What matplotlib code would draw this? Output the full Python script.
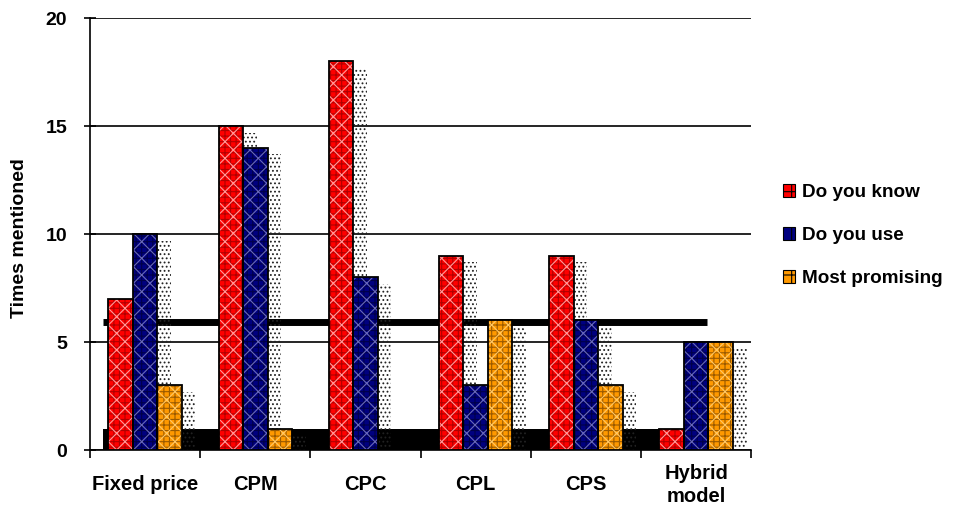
import numpy as np
import matplotlib.pyplot as plt
from matplotlib.patches import Patch

plt.rcParams['font.family'] = ['Liberation Sans', 'DejaVu Sans']
plt.rcParams['font.weight'] = 'bold'
plt.rcParams['hatch.linewidth'] = 0.8

categories = ['Fixed price', 'CPM', 'CPC', 'CPL', 'CPS', 'Hybrid\nmodel']
know = [7, 15, 18, 9, 9, 1]
use = [10, 14, 8, 3, 6, 5]
promising = [3, 1, 0, 6, 3, 5]
series_names = ['Do you know', 'Do you use', 'Most promising']

colors = ['#ff0000', '#000080', '#ff9900']
dark_hatch = ['#b00000', '#00004a', '#9a5a00']
light_hatch = ['#ff9a9a', '#6a6ab8', '#ffc866']

fig = plt.figure(figsize=(9.57, 5.15), dpi=100)
ax = fig.add_axes([0.094, 0.126, 0.691, 0.839])

x = np.arange(len(categories))
w = 0.222
offsets = [-w, 0, w]

# thick reference bars behind the columns
ax.fill_between([-0.38, 5.05], 0, 1, color='black', zorder=1, linewidth=0)
ax.hlines(5.93, -0.38, 5.1, color='black', linewidth=5, zorder=1)

for vals, off, col, dh, lh in zip([know, use, promising], offsets, colors, dark_hatch, light_hatch):
    vals = np.array(vals, dtype=float)
    # dotted drop shadow
    ax.bar(x + off + w * 0.5 + w * 0.28, vals - 0.3, w * 0.56, bottom=0,
           fill=False, hatch='....', edgecolor='#222222', linewidth=0, zorder=2)
    # patterned face
    ax.bar(x + off, vals, w, color=col, hatch='+++', edgecolor=dh, linewidth=0, zorder=3)
    ax.bar(x + off, vals, w, fill=False, hatch='xx', edgecolor=lh, linewidth=0, zorder=3)
    # outline
    ax.bar(x + off, vals, w, fill=False, edgecolor='black', linewidth=1.3, zorder=4)

ax.set_xlim(-0.5, 5.5)
ax.set_ylim(0, 20)
ax.set_yticks([0, 5, 10, 15, 20])
ax.yaxis.grid(True, color='black', linewidth=1.2)
ax.set_axisbelow(True)

ax.set_xticks(np.arange(-0.5, 6, 1))
ax.set_xticklabels([])
ax.set_xticks(x, minor=True)
ax.set_xticklabels(categories, minor=True, fontsize=14.5, fontweight='bold',
                   linespacing=1.25, va='center')
ax.tick_params(axis='x', which='major', direction='out', length=6, width=1.2)
ax.tick_params(axis='x', which='minor', length=0, pad=25)
ax.tick_params(axis='y', direction='inout', length=9, width=1.2, pad=12, labelsize=14)
for t in ax.get_yticklabels():
    t.set_fontweight('bold')

for s in ['top', 'right']:
    ax.spines[s].set_visible(False)
for s in ['left', 'bottom']:
    ax.spines[s].set_linewidth(1.2)

ax.set_ylabel('Times mentioned', fontsize=14, fontweight='bold')
ax.yaxis.set_label_coords(-0.094, 0.49)

handles = [Patch(facecolor=c, edgecolor='black', hatch='+', linewidth=0.8) for c in colors]
fig.legend(handles, series_names, loc='center left', bbox_to_anchor=(0.818, 0.542),
           frameon=False, borderpad=0, borderaxespad=0, handlelength=0.65, handleheight=0.65,
           handletextpad=0.35, labelspacing=1.38, prop={'weight': 'bold', 'size': 13.6})

fig.savefig('out.png', dpi=100)
